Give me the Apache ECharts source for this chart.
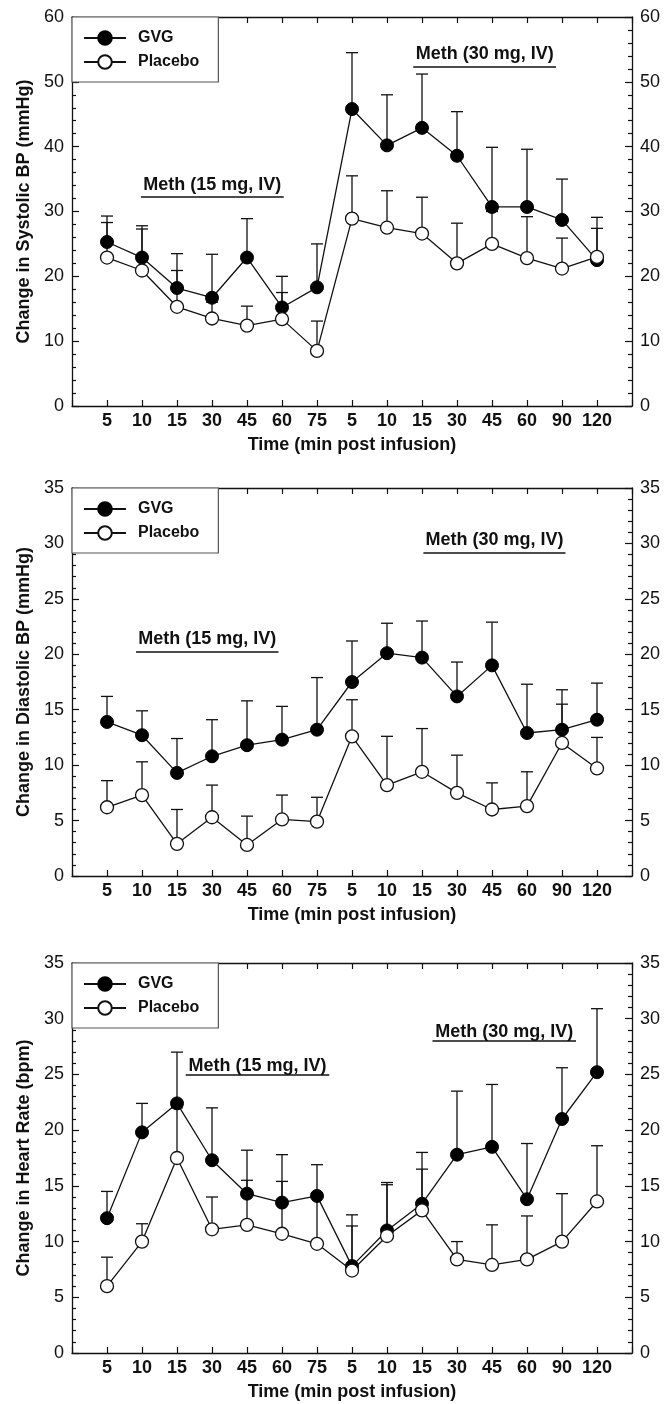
<!DOCTYPE html>
<html>
<head>
<meta charset="utf-8">
<script src="https://cdn.jsdelivr.net/npm/echarts@6/dist/echarts.min.js"></script>
<style>
  html, body { margin: 0; padding: 0; background: #fff; }
  #chart { width: 670px; height: 1404px; }
</style>
</head>
<body>
<div id="chart"></div>
<script>
  // time points (min post infusion), first and second infusion
  var timeLabels = ['5', '10', '15', '30', '45', '60', '75', '5', '10', '15', '30', '45', '60', '90', '120'];

  // systolic BP
  var gvgSys = [25.3, 22.9, 18.2, 16.7, 22.9, 15.2, 18.3, 45.8, 40.2, 42.9, 38.6, 30.7, 30.7, 28.7, 22.5];
  var gvgSysTop = [29.3, 27.8, 23.5, 23.4, 28.9, 20.0, 25.0, 54.5, 48.0, 51.2, 45.4, 39.9, 39.6, 35.0, 29.1];
  var plaSys = [22.9, 20.9, 15.3, 13.5, 12.4, 13.4, 8.5, 28.9, 27.5, 26.6, 22.0, 25.0, 22.8, 21.2, 23.0];
  var plaSysTop = [28.3, 27.3, 20.9, 16.0, 15.4, 17.5, 13.1, 35.5, 33.2, 32.2, 28.2, 30.0, 29.2, 25.9, 27.4];

  // diastolic BP
  var gvgDia = [13.9, 12.7, 9.3, 10.8, 11.8, 12.3, 13.2, 17.5, 20.1, 19.7, 16.2, 19.0, 12.9, 13.2, 14.1];
  var gvgDiaTop = [16.2, 14.9, 12.4, 14.1, 15.8, 15.3, 17.9, 21.2, 22.8, 23.0, 19.3, 22.9, 17.3, 16.8, 17.4];
  var plaDia = [6.2, 7.3, 2.9, 5.3, 2.8, 5.1, 4.9, 12.6, 8.2, 9.4, 7.5, 6.0, 6.3, 12.0, 9.7];
  var plaDiaTop = [8.6, 10.3, 6.0, 8.2, 5.4, 7.3, 7.1, 15.9, 12.6, 13.3, 10.9, 8.4, 9.4, 15.5, 12.5];

  // heart rate
  var gvgHr = [12.1, 19.8, 22.4, 17.3, 14.3, 13.5, 14.1, 7.8, 11.0, 13.4, 17.8, 18.5, 13.8, 21.0, 25.2];
  var gvgHrTop = [14.5, 22.4, 27.0, 22.0, 18.2, 17.8, 16.9, 12.4, 15.3, 18.0, 23.5, 24.1, 18.8, 25.6, 30.9];
  var plaHr = [6.0, 10.0, 17.5, 11.1, 11.5, 10.7, 9.8, 7.4, 10.5, 12.8, 8.4, 7.9, 8.4, 10.0, 13.6];
  var plaHrTop = [8.6, 11.6, 22.0, 14.0, 15.5, 15.4, 14.3, 11.4, 15.1, 16.5, 10.0, 11.5, 12.3, 14.3, 18.6];

  // dosing periods: label, x range (in slots), height
  var sysNotes = [['Meth (15 mg, IV)', 1.97, 6.05, 32.3], ['Meth (30 mg, IV)', 9.75, 13.83, 52.4]];
  var diaNotes = [['Meth (15 mg, IV)', 1.83, 5.9, 20.25], ['Meth (30 mg, IV)', 10.04, 14.1, 29.2]];
  var hrNotes = [['Meth (15 mg, IV)', 3.25, 7.35, 24.95], ['Meth (30 mg, IV)', 10.3, 14.4, 28.0]];

  var panels = [
    { title: 'Change in Systolic BP (mmHg)', max: 60, interval: 10, top: 17, height: 389,
      gvg: gvgSys, gvgTop: gvgSysTop, pla: plaSys, plaTop: plaSysTop, notes: sysNotes, noteGap: 3 },
    { title: 'Change in Diastolic BP (mmHg)', max: 35, interval: 5, top: 488, height: 388,
      gvg: gvgDia, gvgTop: gvgDiaTop, pla: plaDia, plaTop: plaDiaTop, notes: diaNotes, noteGap: 3 },
    { title: 'Change in Heart Rate (bpm)', max: 35, interval: 5, top: 963, height: 390,
      gvg: gvgHr, gvgTop: gvgHrTop, pla: plaHr, plaTop: plaHrTop, notes: hrNotes, noteGap: 0 }
  ];

  var ink = '#111';
  var font = 'Liberation Sans, Arial, Helvetica, sans-serif';

  function points(vals) {
    return vals.map(function (v, i) { return [i + 1, v]; });
  }
  function bars(vals, tops) {
    return vals.map(function (v, i) { return [i + 1, v, tops[i]]; });
  }

  function renderErr(params, api) {
    var x = api.value(0);
    var p0 = api.coord([x, api.value(1)]);
    var p1 = api.coord([x, api.value(2)]);
    var w = 6;
    var st = { stroke: ink, lineWidth: 1.3 };
    return {
      type: 'group',
      children: [
        { type: 'line', shape: { x1: p0[0], y1: p0[1], x2: p1[0], y2: p1[1] }, style: st },
        { type: 'line', shape: { x1: p1[0] - w, y1: p1[1], x2: p1[0] + w, y2: p1[1] }, style: st }
      ]
    };
  }

  var grid = [], xAxis = [], yAxis = [], series = [], legend = [];

  panels.forEach(function (p, k) {
    grid.push({ left: 72, width: 560, top: p.top, height: p.height });

    xAxis.push({
      type: 'value', gridIndex: k, min: 0, max: 16, interval: 1, position: 'bottom',
      name: 'Time (min post infusion)', nameLocation: 'middle', nameGap: 30,
      nameTextStyle: { color: ink, fontSize: 18, fontWeight: 'bold', fontFamily: font },
      axisLine: { onZero: false, lineStyle: { color: ink, width: 1.3 } },
      axisTick: { inside: true, length: 6, lineStyle: { color: ink, width: 1.2 } },
      axisLabel: {
        color: ink, fontSize: 18, fontWeight: 'bold', fontFamily: font, margin: 6,
        formatter: function (v) { return timeLabels[v - 1] || ''; }
      },
      splitLine: { show: false }
    });
    xAxis.push({
      type: 'value', gridIndex: k, min: 0, max: 16, interval: 1, position: 'top',
      axisLine: { onZero: false, lineStyle: { color: ink, width: 1.3 } },
      axisTick: { inside: true, length: 6, lineStyle: { color: ink, width: 1.2 } },
      axisLabel: { show: false },
      splitLine: { show: false }
    });

    [['left', true], ['right', false]].forEach(function (side) {
      yAxis.push({
        type: 'value', gridIndex: k, min: 0, max: p.max, interval: p.interval, position: side[0],
        name: side[1] ? p.title : '', nameLocation: 'middle', nameGap: 36,
        nameTextStyle: { color: ink, fontSize: 18, fontWeight: 'bold', fontFamily: font },
        axisLine: { show: true, onZero: false, lineStyle: { color: ink, width: 1.3 } },
        axisTick: { inside: true, length: 7, lineStyle: { color: ink, width: 1.2 } },
        minorTick: { show: true, splitNumber: 5, length: 4, lineStyle: { color: ink, width: 1.2 } },
        axisLabel: { color: ink, fontSize: 18, fontFamily: font, margin: 8 },
        splitLine: { show: false }
      });
    });

    var xi = k * 2, yi = k * 2;

    series.push({
      type: 'custom', xAxisIndex: xi, yAxisIndex: yi, z: 1, silent: true,
      renderItem: renderErr, encode: { x: 0, y: [1, 2] }, data: bars(p.gvg, p.gvgTop)
    });
    series.push({
      type: 'custom', xAxisIndex: xi, yAxisIndex: yi, z: 1, silent: true,
      renderItem: renderErr, encode: { x: 0, y: [1, 2] }, data: bars(p.pla, p.plaTop)
    });
    series.push({
      name: 'GVG', type: 'line', xAxisIndex: xi, yAxisIndex: yi, z: 3,
      symbol: 'circle', symbolSize: 13,
      lineStyle: { color: ink, width: 1.3 },
      itemStyle: { color: '#000', borderColor: '#000', borderWidth: 1 },
      data: points(p.gvg),
      markLine: {
        silent: true, symbol: ['none', 'none'], animation: false,
        lineStyle: { color: ink, width: 1.6, type: 'solid' },
        label: {
          show: true, position: 'insideMiddleTop', formatter: '{b}', distance: p.noteGap,
          color: ink, fontSize: 18, fontWeight: 'bold', fontFamily: font
        },
        emphasis: { disabled: true },
        data: p.notes.map(function (n) {
          return [{ name: n[0], coord: [n[1], n[3]] }, { coord: [n[2], n[3]] }];
        })
      }
    });
    series.push({
      name: 'Placebo', type: 'line', xAxisIndex: xi, yAxisIndex: yi, z: 4,
      symbol: 'circle', symbolSize: 13,
      lineStyle: { color: ink, width: 1.3 },
      itemStyle: { color: '#fff', borderColor: ink, borderWidth: 1.3 },
      data: points(p.pla)
    });

    legend.push({
      data: ['GVG', 'Placebo'], orient: 'vertical', left: 72, top: p.top,
      padding: [13, 19, 12, 11], itemWidth: 42, itemHeight: 17, itemGap: 8,
      borderColor: '#555', borderWidth: 1.2, backgroundColor: '#fff',
      selectedMode: false,
      textStyle: { color: ink, fontSize: 16, fontWeight: 'bold', fontFamily: font, padding: [0, 0, 0, 7] }
    });
  });

  var chart = echarts.init(document.getElementById('chart'));
  chart.setOption({
    animation: false,
    backgroundColor: '#fff',
    grid: grid,
    xAxis: xAxis,
    yAxis: yAxis,
    legend: legend,
    series: series
  });
</script>
</body>
</html>
